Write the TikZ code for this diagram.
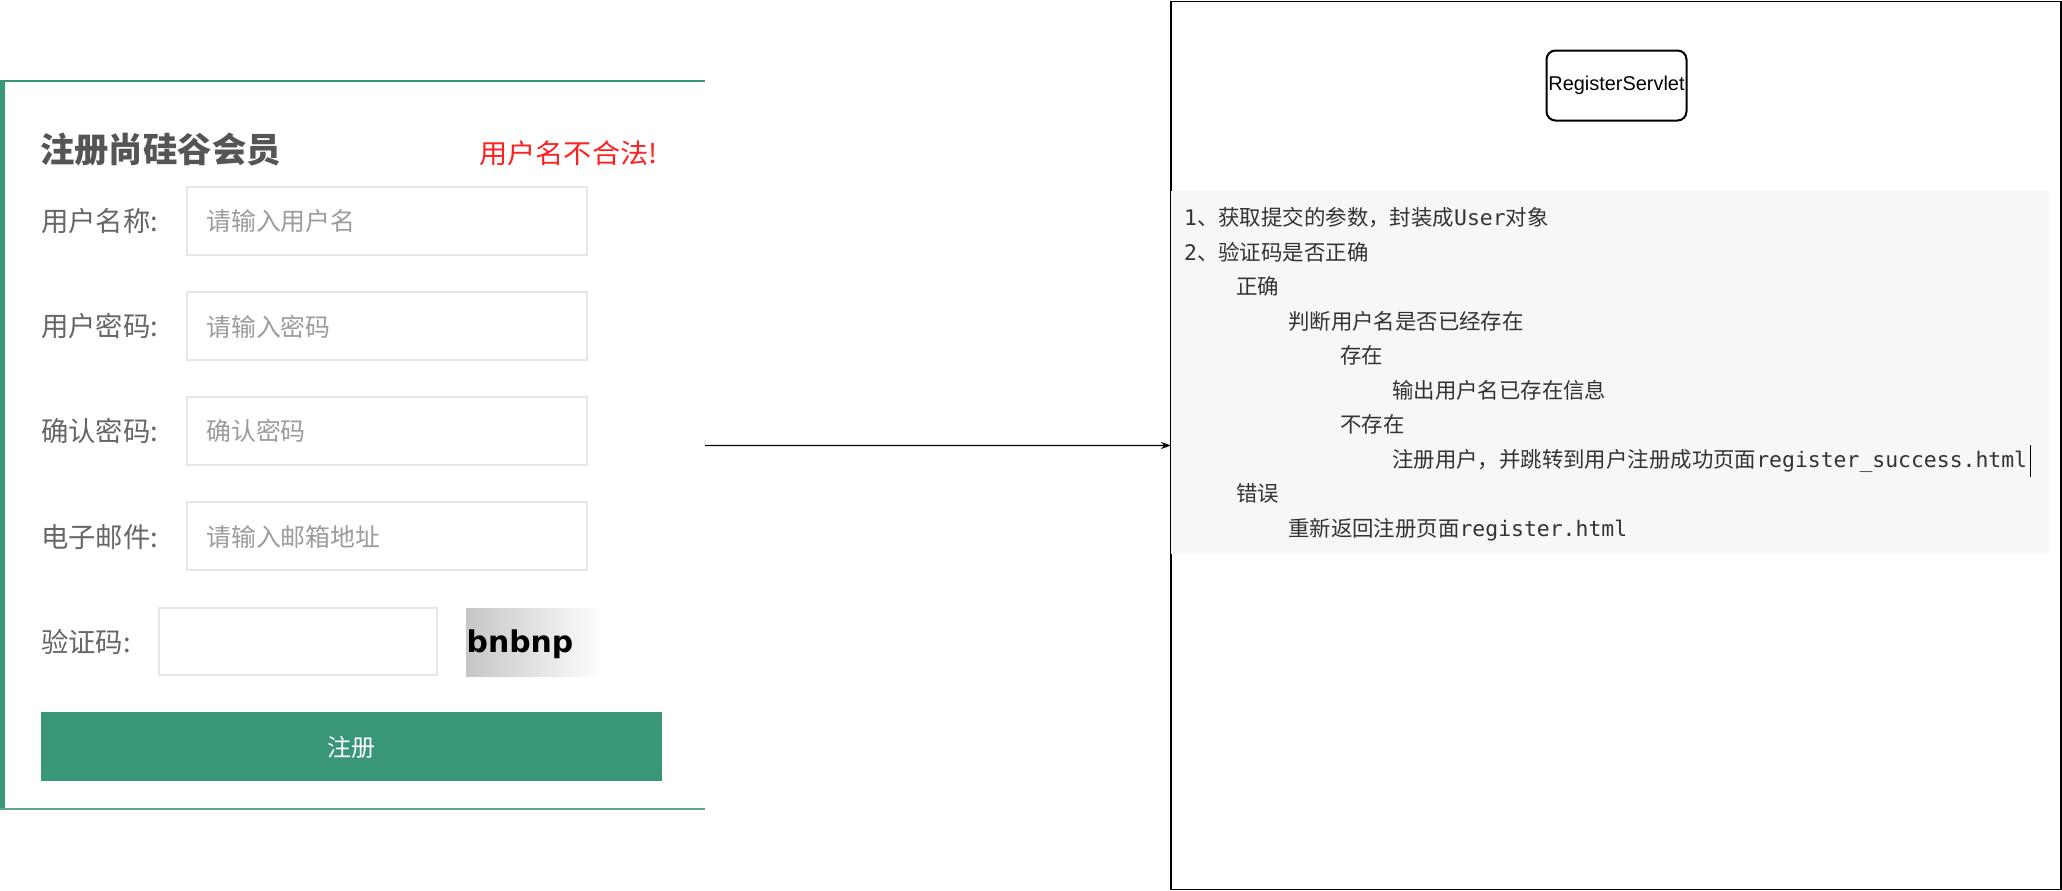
\documentclass[tikz,border=0pt]{standalone}
\usepackage{fontspec}
\setmainfont{Liberation Sans}
\newfontfamily\cjk{Noto Sans CJK SC}
\newfontfamily\mono{DejaVu Sans Mono}
\newfontfamily\capfont{DejaVu Sans}
\usetikzlibrary{arrows.meta}
\definecolor{formgreen}{HTML}{3A9679}
\definecolor{formgreenlt}{HTML}{5AA88E}
\definecolor{labelgray}{HTML}{666666}
\definecolor{phgray}{HTML}{9C9C9C}
\definecolor{titlegray}{HTML}{555555}
\definecolor{boxgray}{HTML}{E6E6E6}
\definecolor{codegray}{HTML}{333333}
\definecolor{codebg}{HTML}{F7F7F7}
\definecolor{errred}{HTML}{FF2020}
\tikzset{
  lbl/.style={anchor=west, inner sep=0pt, text=labelgray, font=\cjk\fontsize{27.5}{30}\selectfont},
  inbox/.style={draw=boxgray, line width=2bp, fill=white},
  ph/.style={anchor=west, inner sep=0pt, text=phgray, font=\cjk\fontsize{25}{28}\selectfont},
  codeline/.style={anchor=base west, inner sep=0pt, text=codegray, font=\mono\fontsize{21.5}{24}\selectfont},
}
\begin{document}
\begin{tikzpicture}[x=1bp,y=-1bp]
\useasboundingbox (0,0) rectangle (2062,891);
% ---------- left form ----------
\node[minimum width=705bp, minimum height=728bp, anchor=north west, inner sep=0pt, outer sep=0pt] (form) at (0,81.5) {};
\fill[formgreen] (0,80) rectangle (4.5,810);
\draw[formgreen, line width=2.5bp] (0,81) -- (705,81);
\draw[formgreenlt, line width=2bp] (0,809) -- (705,809);

\node[anchor=west, inner sep=0pt, text=titlegray, font=\cjk\bfseries\fontsize{34.5}{38}\selectfont] (title) at (40,150) {注册尚硅谷会员};
\node[anchor=west, inner sep=0pt, text=errred, font=\cjk\fontsize{27}{30}\selectfont] (err) at (479,153.5) {\scalebox{1.05}[1]{用户名不合法!}};

\draw[inbox] (187,187) rectangle (587,255);
\draw[inbox] (187,292) rectangle (587,360);
\draw[inbox] (187,397) rectangle (587,465);
\draw[inbox] (187,502) rectangle (587,570);
\draw[inbox] (159,608) rectangle (437,675);

\node[lbl] (l1) at (41,221) {用户名称:};
\node[lbl] (l2) at (41,326.5) {用户密码:};
\node[lbl] (l3) at (41,431) {确认密码:};
\node[lbl] (l4) at (41,537) {电子邮件:};
\node[lbl] (l5) at (41,642) {验证码:};

\node[ph] (p1) at (206,221) {请输入用户名};
\node[ph] (p2) at (206,326.5) {请输入密码};
\node[ph] (p3) at (206,431) {确认密码};
\node[ph] (p4) at (206,537) {请输入邮箱地址};

\shade[left color=gray!45, right color=white] (466,608) rectangle (604,676);
\node[inner sep=0pt, font=\capfont\bfseries\fontsize{30}{34}\selectfont, text=black] (cap) at (520,644) {bnbnp};

\fill[formgreen] (41,712) rectangle (662,781);
\node[inner sep=0pt, text=white, font=\cjk\fontsize{24}{28}\selectfont] (btn) at (351.5,747) {注册};

% ---------- right panel ----------
\node[draw, line width=1.3bp, minimum width=890bp, minimum height=888bp, anchor=north west, inner sep=0pt, outer sep=0pt] (servlet) at (1171,1.5) {};
\node[draw, line width=2bp, rounded corners=9bp, minimum width=140bp, minimum height=70bp, inner sep=1bp, font=\fontsize{20}{24}\selectfont] (rs) at (1616.5,85.5) {RegisterServlet};

\fill[codebg] (1171,191) rectangle (2049,554);
\node[codeline] (c1) at (1184,225.5) {1{\cjk 、获取提交的参数，封装成}User{\cjk 对象}};
\node[codeline] (c2) at (1184,260) {2{\cjk 、验证码是否正确}};
\node[codeline] (c3) at (1236,294.5) {{\cjk 正确}};
\node[codeline] (c4) at (1288,329) {{\cjk 判断用户名是否已经存在}};
\node[codeline] (c5) at (1340,363.5) {{\cjk 存在}};
\node[codeline] (c6) at (1392,398) {{\cjk 输出用户名已存在信息}};
\node[codeline] (c7) at (1340,432.5) {{\cjk 不存在}};
\node[codeline] (c8) at (1392,467) {{\cjk 注册用户，并跳转到用户注册成功页面}register\_success.html};
\node[codeline] (c9) at (1236,501.5) {{\cjk 错误}};
\node[codeline] (c10) at (1288,536) {{\cjk 重新返回注册页面}register.html};
\coordinate (cur) at ([xshift=3bp]c8.base east);
\draw[line width=1.5bp] (cur) ++(0,-22) -- ++(0,32);

% ---------- connector ----------
\draw[line width=1.3bp, -{Stealth[length=10bp,width=7bp]}] (form.east) -- (servlet.west);
\end{tikzpicture}
\end{document}
